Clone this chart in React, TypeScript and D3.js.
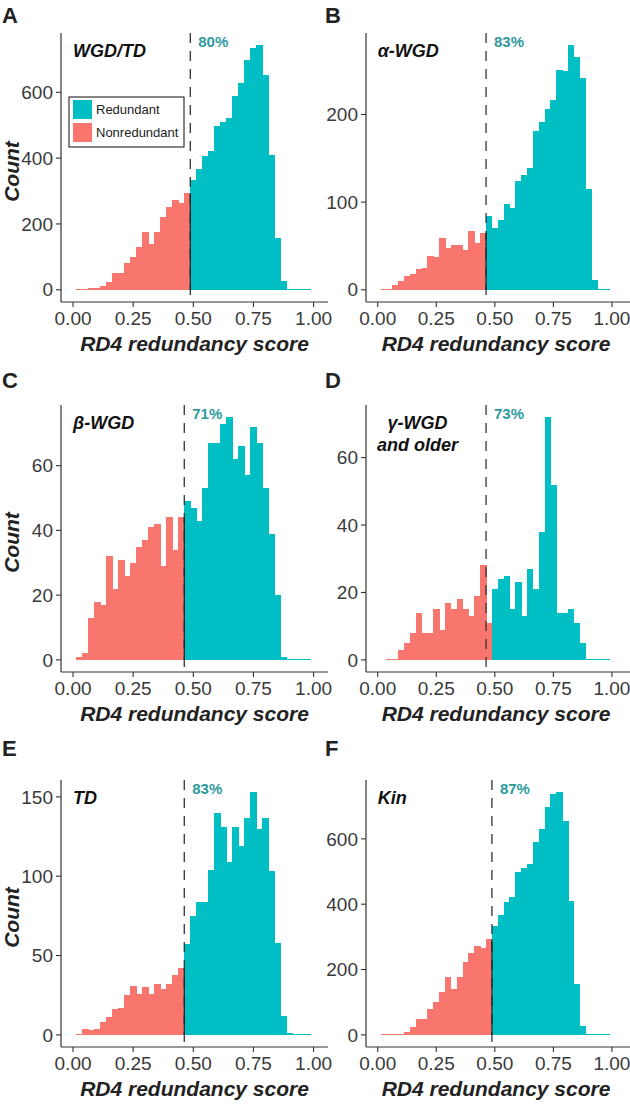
import React from "react";
import * as d3 from "d3";

// ---------- data ----------
const BIN_WIDTH = 0.025;
const xTicks = [0, 0.25, 0.5, 0.75, 1];

const panelLetters = ["A", "B", "C", "D", "E", "F"];
const panelTitles = [["WGD/TD"], ["α-WGD"], ["β-WGD"], ["γ-WGD", "and older"], ["TD"], ["Kin"]];
const percentLabels = ["80%", "83%", "71%", "73%", "83%", "87%"];
const thresholds = [0.4875, 0.4625, 0.4625, 0.4625, 0.4625, 0.4875];
const firstBinCenters = [0.025, 0.025, 0.025, 0.05, 0.025, 0.025];

const yTicksA = [0, 200, 400, 600];
const yTicksB = [0, 100, 200];
const yTicksC = [0, 20, 40, 60];
const yTicksD = [0, 20, 40, 60];
const yTicksE = [0, 50, 100, 150];
const yTicksF = [0, 200, 400, 600];

// Nonredundant (red) and redundant (cyan) bin counts, consecutive bins
const wgdtdNonredundant = [1, 2, 4, 4, 10, 24, 50, 50, 80, 101, 130, 177, 140, 176, 222, 251, 272, 265, 293];
const wgdtdRedundant = [333, 367, 407, 421, 499, 511, 522, 589, 629, 699, 736, 743, 654, 409, 157, 27, 2, 1, 1, 0];

const alphaNonredundant = [0, 0, 6, 10, 16, 18, 24, 25, 38, 37, 59, 48, 51, 51, 45, 67, 53, 65];
const alphaRedundant = [84, 70, 80, 98, 93, 124, 131, 139, 181, 191, 206, 216, 251, 250, 279, 266, 242, 115, 11, 0, 0];

const betaNonredundant = [1, 2, 13, 18, 17, 32, 22, 31, 26, 30, 35, 37, 41, 42, 29, 44, 34, 44];
const betaRedundant = [49, 47, 43, 53, 67, 67, 73, 75, 62, 66, 57, 72, 67, 53, 39, 20, 1, 0, 0, 0, 0];

const gammaNonredundant = [0, 0, 3, 5, 8, 14, 8, 8, 15, 9, 17, 15, 18, 15, 13, 19, 28, 11];
const gammaRedundant = [21, 24, 25, 15, 23, 13, 27, 21, 38, 72, 52, 14, 14, 15, 11, 5, 0, 0, 0, 0];

const tdNonredundant = [0, 4, 3, 4, 8, 11, 16, 17, 25, 31, 26, 30, 26, 32, 29, 32, 38, 42];
const tdRedundant = [57, 75, 84, 84, 104, 140, 131, 109, 131, 119, 137, 153, 130, 137, 103, 58, 12, 1, 0, 0, 0];

const kinNonredundant = [1, 2, 4, 4, 10, 24, 50, 50, 80, 101, 130, 177, 140, 176, 222, 251, 272, 265, 293];
const kinRedundant = [333, 367, 407, 421, 499, 511, 522, 589, 629, 699, 736, 743, 654, 409, 157, 27, 2, 1, 1, 0];

const legendLabels = ["Redundant", "Nonredundant"];

// ---------- styles / layout ----------
const RED = "#F8766D";
const CYAN = "#00BFC4";
const PCT_COLOR = "#2E9A9C";
const FONT = "'Liberation Sans', Arial, Helvetica, sans-serif";
const W = 630;
const H = 1104;

const cols = [
  { left: 61, right: 328, axisEnd: 328, letterX: 2 },
  { left: 366, right: 626, axisEnd: 630, letterX: 325 },
];
const rows = [
  { top: 33, bottom: 302, letterY: 23 },
  { top: 405, bottom: 672, letterY: 388 },
  { top: 780, bottom: 1047, letterY: 756 },
];

const panels = [
  { red: wgdtdNonredundant, cyan: wgdtdRedundant, yTicks: yTicksA, solid: true, legend: true },
  { red: alphaNonredundant, cyan: alphaRedundant, yTicks: yTicksB, solid: true, legend: false },
  { red: betaNonredundant, cyan: betaRedundant, yTicks: yTicksC, solid: true, legend: false },
  { red: gammaNonredundant, cyan: gammaRedundant, yTicks: yTicksD, solid: false, legend: false },
  { red: tdNonredundant, cyan: tdRedundant, yTicks: yTicksE, solid: true, legend: false },
  { red: kinNonredundant, cyan: kinRedundant, yTicks: yTicksF, solid: true, legend: false },
];

function Panel({ idx }: { idx: number }) {
  const p = panels[idx];
  const col = cols[idx % 2];
  const row = rows[Math.floor(idx / 2)];
  const x = d3.scaleLinear().domain([-0.05, 1.06]).range([col.left, col.right]);
  const yMax = d3.max([...p.red, ...p.cyan]) as number;
  const y = d3.scaleLinear().domain([-0.05 * yMax, 1.05 * yMax]).range([row.bottom, row.top]);

  const start = firstBinCenters[idx];
  const bins = [
    ...p.red.map((c, i) => ({ c, center: start + i * BIN_WIDTH, fill: RED })),
    ...p.cyan.map((c, i) => ({ c, center: start + (p.red.length + i) * BIN_WIDTH, fill: CYAN })),
  ];
  const thr = thresholds[idx];
  const fmt = d3.format(".2f");
  const lines = panelTitles[idx];
  const isD = lines.length > 1;
  const lastRed = p.red[p.red.length - 1];
  const firstCyan = p.cyan[0];

  return (
    <g>
      <text x={col.letterX} y={row.letterY} fontFamily={FONT} fontWeight="bold" fontSize={22} fill="#222">
        {panelLetters[idx]}
      </text>
      <g shapeRendering="crispEdges">
        {bins.map((b, i) => {
          const x0 = x(b.center - BIN_WIDTH / 2);
          const x1 = x(b.center + BIN_WIDTH / 2);
          const base = y(0);
          const h = Math.max(1, base - y(b.c));
          return <rect key={i} x={x0} y={base - h} width={x1 - x0 + 0.5} height={h} fill={b.fill} />;
        })}
      </g>
      {/* threshold line */}
      <line
        x1={x(thr)}
        x2={x(thr)}
        y1={row.top}
        y2={row.bottom}
        stroke="#333"
        strokeWidth={1.3}
        strokeDasharray="10,8"
      />
      {p.solid && (
        <line
          x1={x(thr)}
          x2={x(thr)}
          y1={y(0)}
          y2={y(Math.min(lastRed, firstCyan))}
          stroke="#222"
          strokeWidth={1.2}
        />
      )}
      {/* axes */}
      <line x1={col.left} x2={col.left} y1={row.top} y2={row.bottom} stroke="#333" strokeWidth={1.2} />
      <line x1={col.left} x2={col.axisEnd} y1={row.bottom} y2={row.bottom} stroke="#333" strokeWidth={1.2} />
      {p.yTicks.map((t) => (
        <g key={"y" + t}>
          <line x1={col.left - 5} x2={col.left} y1={y(t)} y2={y(t)} stroke="#333" strokeWidth={1.1} />
          <text
            x={col.left - 8}
            y={y(t)}
            dy="0.35em"
            textAnchor="end"
            fontFamily={FONT}
            fontSize={19}
            fill="#3a3a3a"
          >
            {t}
          </text>
        </g>
      ))}
      {xTicks.map((t) => (
        <g key={"x" + t}>
          <line x1={x(t)} x2={x(t)} y1={row.bottom} y2={row.bottom + 5} stroke="#333" strokeWidth={1.1} />
          <text
            x={x(t)}
            y={row.bottom + 23}
            textAnchor="middle"
            fontFamily={FONT}
            fontSize={19}
            fill="#3a3a3a"
          >
            {fmt(t)}
          </text>
        </g>
      ))}
      <text
        x={(col.left + col.right) / 2}
        y={row.bottom + 49}
        textAnchor="middle"
        fontFamily={FONT}
        fontWeight="bold"
        fontStyle="italic"
        fontSize={21}
        fill="#222"
      >
        RD4 redundancy score
      </text>
      {idx % 2 === 0 && (
        <text
          transform={`translate(19,${(row.top + row.bottom) / 2 + 4}) rotate(-90)`}
          textAnchor="middle"
          fontFamily={FONT}
          fontWeight="bold"
          fontStyle="italic"
          fontSize={21}
          fill="#222"
        >
          Count
        </text>
      )}
      {/* annotations */}
      {lines.map((l, i) => (
        <text
          key={l}
          x={isD ? x(0.17) : x(0)}
          y={row.top + 24 + i * 22}
          textAnchor={isD ? "middle" : "start"}
          fontFamily={FONT}
          fontWeight="bold"
          fontStyle="italic"
          fontSize={18}
          fill="#111"
        >
          {l}
        </text>
      ))}
      <text
        x={x(thr) + 8}
        y={row.top + 14}
        fontFamily={FONT}
        fontWeight="bold"
        fontSize={15}
        fill={PCT_COLOR}
      >
        {percentLabels[idx]}
      </text>
      {p.legend && (
        <g>
          <rect x={col.left + 8} y={row.top + 64} width={115} height={50} fill="#fff" stroke="#222" strokeWidth={1.1} />
          {legendLabels.map((lab, i) => (
            <g key={lab}>
              <rect
                x={col.left + 12}
                y={row.top + 67 + i * 23}
                width={19}
                height={19}
                fill={i === 0 ? CYAN : RED}
              />
              <text
                x={col.left + 35}
                y={row.top + 76.5 + i * 23}
                dy="0.35em"
                fontFamily={FONT}
                fontSize={13}
                fill="#222"
              >
                {lab}
              </text>
            </g>
          ))}
        </g>
      )}
    </g>
  );
}

export default function App() {
  return (
    <svg
      width={W}
      height={H}
      viewBox={`0 0 ${W} ${H}`}
      style={{ position: "absolute", left: 0, top: 0, background: "#fff" }}
    >
      <rect x={0} y={0} width={W} height={H} fill="#fff" />
      {panels.map((_, i) => (
        <Panel key={i} idx={i} />
      ))}
    </svg>
  );
}
